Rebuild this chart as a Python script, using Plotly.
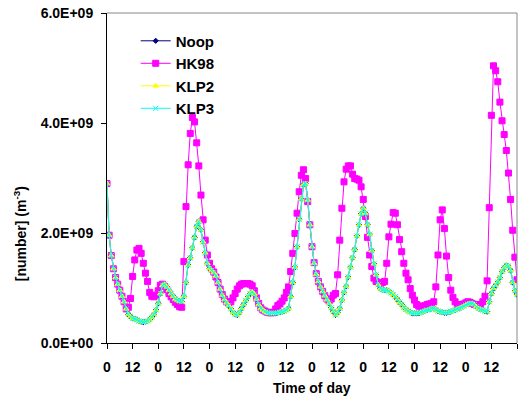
import plotly.graph_objects as go

# hourly samples over eight days
hours = list(range(193))

noop = [
    2.90, 1.96, 1.59, 1.35, 1.19, 1.07, 0.96, 0.85, 0.75, 0.62, 0.52, 0.48,
    0.45, 0.44, 0.42, 0.40, 0.39, 0.38, 0.39, 0.40, 0.43, 0.47, 0.52, 0.60,
    0.72, 0.90, 1.05, 1.07, 1.02, 0.96, 0.90, 0.85, 0.80, 0.78, 0.76, 0.75,
    0.85, 1.10, 1.42, 1.55, 1.73, 1.92, 2.12, 2.21, 2.06, 1.84, 1.64, 1.45,
    1.36, 1.32, 1.28, 1.22, 1.10, 0.98, 0.87, 0.79, 0.73, 0.68, 0.62, 0.56,
    0.52, 0.51, 0.55, 0.63, 0.70, 0.77, 0.84, 0.90, 0.93, 0.89, 0.80, 0.70,
    0.63, 0.60, 0.57, 0.55, 0.54, 0.54, 0.54, 0.54, 0.55, 0.56, 0.57, 0.58,
    0.60, 0.63, 0.85, 1.10, 1.38, 1.75, 2.25, 2.62, 2.88, 2.90, 2.60, 2.15,
    1.75, 1.45, 1.25, 1.12, 1.02, 0.94, 0.86, 0.79, 0.72, 0.64, 0.57, 0.51,
    0.55, 0.63, 0.78, 0.92, 1.03, 1.20, 1.38, 1.55, 1.70, 1.95, 2.15, 2.35,
    2.45, 2.36, 2.15, 1.98, 1.68, 1.44, 1.24, 1.06, 0.99, 0.97, 0.96, 0.96,
    0.94, 0.91, 0.88, 0.84, 0.79, 0.74, 0.70, 0.65, 0.61, 0.58, 0.56, 0.54,
    0.54, 0.54, 0.54, 0.56, 0.57, 0.59, 0.60, 0.61, 0.63, 0.63, 0.61, 0.58,
    0.57, 0.56, 0.55, 0.55, 0.56, 0.57, 0.59, 0.60, 0.62, 0.63, 0.65, 0.67,
    0.69, 0.71, 0.72, 0.72, 0.70, 0.66, 0.63, 0.61, 0.60, 0.58, 0.57, 0.75,
    0.90, 0.99, 1.05, 1.11, 1.19, 1.30, 1.37, 1.41, 1.40, 1.32, 1.10, 0.95,
    0.88,
]

hk98 = [
    2.90, 1.96, 1.59, 1.35, 1.19, 1.07, 0.96, 0.85, 0.75, 0.62, 0.65, 0.81,
    1.21, 1.51, 1.69, 1.72, 1.63, 1.45, 1.27, 1.12, 0.92, 0.85, 0.84, 0.87,
    0.95, 1.05, 1.07, 1.03, 0.97, 0.90, 0.84, 0.79, 0.74, 0.70, 0.66, 0.65,
    1.48, 2.48, 3.24, 3.81, 4.10, 4.02, 3.64, 3.22, 2.69, 2.24, 1.87, 1.60,
    1.45, 1.35, 1.29, 1.20, 1.10, 0.98, 0.88, 0.80, 0.75, 0.72, 0.75, 0.82,
    0.90, 0.98, 1.04, 1.07, 1.08, 1.08, 1.08, 1.07, 1.04, 0.95, 0.82, 0.72,
    0.64, 0.60, 0.58, 0.56, 0.55, 0.55, 0.56, 0.62, 0.68, 0.71, 0.76, 0.82,
    0.92, 1.02, 1.30, 1.63, 1.99, 2.36, 2.75, 3.05, 3.15, 2.99, 2.57, 2.15,
    1.75, 1.46, 1.26, 1.12, 1.02, 0.94, 0.86, 0.80, 0.76, 0.80, 0.87, 0.90,
    1.24, 1.87, 2.45, 2.93, 3.16, 3.22, 3.22, 3.07, 2.99, 2.98, 2.96, 2.84,
    2.61, 2.30, 1.92, 1.60, 1.39, 1.18, 1.12, 1.10, 1.08, 1.10, 1.12, 1.45,
    1.93, 2.16, 2.37, 2.36, 2.15, 1.88, 1.66, 1.45, 1.27, 1.15, 0.99, 0.87,
    0.78, 0.70, 0.67, 0.66, 0.67, 0.68, 0.70, 0.71, 0.72, 0.75, 1.02, 1.60,
    2.24, 2.42, 2.08, 1.58, 1.19, 0.96, 0.83, 0.75, 0.70, 0.69, 0.69, 0.71,
    0.73, 0.75, 0.74, 0.72, 0.70, 0.69, 0.69, 0.70, 0.75, 0.85, 1.13, 2.46,
    4.14, 5.04, 4.95, 4.75, 4.38, 4.04, 3.79, 3.50, 3.09, 2.61, 2.05, 1.56,
    1.15,
]

# KLP2 and KLP3 sit on top of Noop in the picture
klp2 = list(noop)
klp3 = list(noop)

tick_hours = list(range(0, 193, 12))
tick_labels = ["0" if h % 24 == 0 else "12" for h in tick_hours]
y_ticks = [0, 2e9, 4e9, 6e9]
y_labels = ["0.0E+00", "2.0E+09", "4.0E+09", "6.0E+09"]

series = [
    ("Noop", noop, "#000080", "diamond", 4),
    ("HK98", hk98, "#FF00FF", "square", 6),
    ("KLP2", klp2, "#FFFF00", "triangle-up", 5),
    ("KLP3", klp3, "#00FFFF", "x-thin-open", 5),
]

fig = go.Figure()
for name, vals, color, symbol, size in series:
    fig.add_trace(
        go.Scatter(
            x=hours,
            y=[v * 1e9 for v in vals],
            mode="lines+markers",
            name=name,
            line=dict(color=color, width=1),
            marker=dict(symbol=symbol, size=size, color=color,
                        line=dict(color=color, width=1)),
        )
    )

FONT = "Liberation Sans, Arial, sans-serif"
bold = dict(family=FONT, size=14, color="black", weight="bold")

fig.update_layout(
    width=518,
    height=402,
    margin=dict(l=107, r=1, t=13, b=59),
    paper_bgcolor="white",
    plot_bgcolor="white",
    showlegend=True,
    legend=dict(
        x=0.07, y=0.965, xanchor="left", yanchor="top",
        bgcolor="rgba(0,0,0,0)",
        font=dict(family=FONT, size=15, color="black", weight="bold"),
        itemwidth=30,
    ),
    xaxis=dict(
        range=[0, 192],
        tickvals=tick_hours,
        ticktext=tick_labels,
        ticks="outside",
        ticklen=5,
        tickcolor="black",
        showline=True,
        linecolor="black",
        showgrid=False,
        zeroline=False,
        tickfont=bold,
        ticklabelstandoff=6,
        automargin=False,
    ),
    yaxis=dict(
        range=[0, 6e9],
        tickvals=y_ticks,
        ticktext=y_labels,
        ticks="outside",
        ticklen=5,
        tickcolor="black",
        showline=True,
        linecolor="black",
        showgrid=False,
        zeroline=False,
        tickfont=bold,
        ticklabelstandoff=5,
        automargin=False,
    ),
    shapes=[
        dict(type="line", xref="paper", yref="paper", x0=0, x1=1, y0=1, y1=1,
             line=dict(color="#888888", width=1)),
        dict(type="line", xref="paper", yref="paper", x0=1, x1=1, y0=0, y1=1,
             line=dict(color="#888888", width=1)),
    ],
    annotations=[
        dict(text="Time of day", xref="paper", yref="paper", x=0.5, y=-0.136,
             showarrow=False, font=bold, xanchor="center", yanchor="middle"),
        dict(text="[number] (m<sup>-3</sup>)", xref="paper", yref="paper",
             x=-0.212, y=0.33, textangle=-90, showarrow=False, font=bold,
             xanchor="center", yanchor="middle"),
    ],
)

# the page's default body margin would push the chart 8px off the window
fig.write_html(
    "out.html",
    config={"displayModeBar": False},
    post_script="document.body.style.margin = '0';",
)
